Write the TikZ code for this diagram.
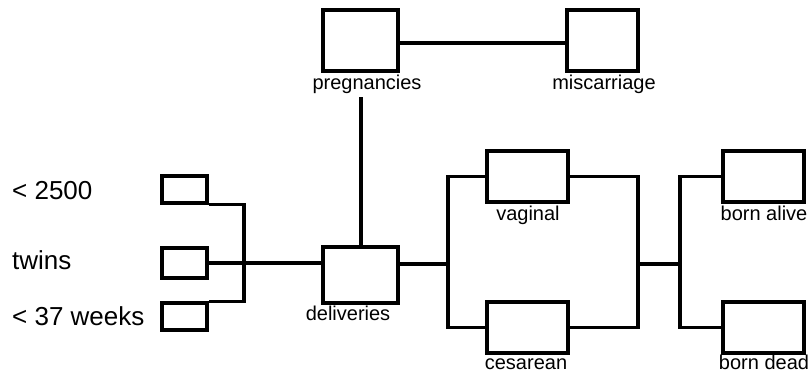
\documentclass[tikz,border=0pt]{standalone}
\usepackage{fontspec}
\setmainfont{Liberation Sans}
\begin{document}
\begin{tikzpicture}[x=1pt,y=-1pt,
  box/.style={draw,line width=3.4pt,inner sep=0pt,minimum width=#1},
  lab/.style={anchor=base,inner sep=0pt,font=\fontsize{20}{24}\selectfont},
  big/.style={anchor=base west,inner sep=0pt,font=\fontsize{26}{30}\selectfont},
  conn/.style={line width=3.4pt}]
\useasboundingbox (0,0) rectangle (812,372);
% boxes
\node[box=75pt,minimum height=61pt] (preg) at (360.5,40.5) {};
\node[box=71pt,minimum height=61pt] (misc) at (602.5,40.5) {};
\node[box=75pt,minimum height=56pt] (deliv) at (360.5,275) {};
\node[box=45pt,minimum height=27pt] (s1) at (184.5,189.5) {};
\node[box=45pt,minimum height=30pt] (s2) at (184.5,263) {};
\node[box=45pt,minimum height=27pt] (s3) at (184.5,316.5) {};
\node[box=81pt,minimum height=51pt] (vag) at (527.5,176.5) {};
\node[box=81pt,minimum height=51pt] (ces) at (527.5,327.5) {};
\node[box=81pt,minimum height=51pt] (alive) at (763.5,176.5) {};
\node[box=81pt,minimum height=51pt] (dead) at (763.5,327.5) {};
% labels
\node[lab] (lpreg) at (367,89) {pregnancies};
\node[lab] (lmisc) at (604,89) {miscarriage};
\node[lab] (ldeliv) at (348,320) {deliveries};
\node[lab] (lvag) at (528,220) {vaginal};
\node[lab] (lces) at (526,369) {cesarean};
\node[lab] (lalive) at (764,220) {born alive};
\node[lab] (ldead) at (764,369) {born dead};
\node[big] (t1) at (12,199) {< 2500};
\node[big] (t2) at (12,269) {twins};
\node[big] (t3) at (12,325) {< 37 weeks};
% junctions
\coordinate (pv) at (361,97);
\coordinate (jA) at (244,263);
\coordinate (jL) at (448,264);
\coordinate (jR) at (638,264);
\coordinate (jR2) at (680,264);
% connectors
\draw[conn] (preg.east |- 0,43) -- (misc.west |- 0,43);
\draw[conn] (deliv.north -| pv) -- (pv);
\draw[conn] (s1.south east) -| (jA) |- (s3.north east);
\draw[conn] (s2.east) -- (s2.east -| deliv.west);
\draw[conn] (deliv.east |- jL) -- (jL);
\draw[conn] (vag.west) -| (jL) |- (ces.west);
\draw[conn] (vag.east) -| (jR) |- (ces.east);
\draw[conn] (jR) -- (jR2);
\draw[conn] (alive.west) -| (jR2) |- (dead.west);
\end{tikzpicture}
\end{document}
